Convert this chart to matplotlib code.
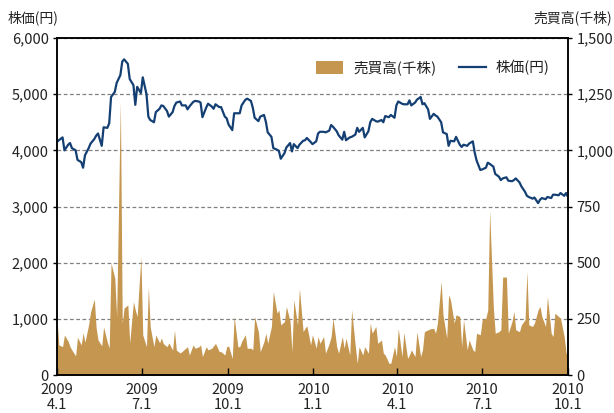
import matplotlib
matplotlib.use('Agg')
import matplotlib.pyplot as plt
from matplotlib.patches import Patch
from matplotlib.lines import Line2D
import pandas as pd

plt.rcParams['font.family'] = ['Noto Sans CJK JP', 'DejaVu Sans']

START = '2009-04-01'
END = '2010-10-01'

# closing price (yen), one value every 2 business days
PRICE = [
    4150, 4180, 4230, 4000, 4100, 4130, 4040, 4000, 3830, 3790,
    3690, 3910, 4040, 4120, 4200, 4260, 4300, 4080, 4410, 4400,
    4480, 4950, 5040, 5200, 5340, 5580, 5620, 5540, 5270, 5160,
    4810, 5130, 5020, 5300, 5000, 4600, 4540, 4500, 4680, 4740,
    4800, 4790, 4700, 4600, 4680, 4790, 4850, 4870, 4800, 4800,
    4730, 4780, 4860, 4880, 4870, 4850, 4590, 4760, 4830, 4780,
    4740, 4820, 4770, 4770, 4600, 4570, 4460, 4360, 4660, 4660,
    4660, 4800, 4900, 4920, 4880, 4760, 4580, 4520, 4600, 4630,
    4510, 4320, 4240, 4040, 4010, 3990, 3850, 3950, 4050, 4130,
    3980, 4110, 4040, 4100, 4170, 4180, 4220, 4150, 4110, 4160,
    4300, 4330, 4330, 4320, 4350, 4450, 4420, 4340, 4270, 4190,
    4330, 4180, 4230, 4240, 4280, 4400, 4330, 4400, 4230, 4340,
    4500, 4560, 4520, 4510, 4540, 4500, 4610, 4590, 4630, 4580,
    4800, 4870, 4830, 4820, 4820, 4890, 4800, 4850, 4900, 4950,
    4820, 4840, 4730, 4560, 4650, 4620, 4600, 4500, 4320, 4290,
    4080, 4170, 4160, 4240, 4100, 4060, 4100, 4080, 4120, 4160,
    3960, 3820, 3650, 3660, 3690, 3780, 3760, 3710, 3580, 3530,
    3470, 3500, 3520, 3460, 3450, 3470, 3500, 3430, 3360, 3260,
    3190, 3170, 3140, 3160, 3060, 3120, 3150, 3130, 3170, 3150,
    3210, 3210, 3200, 3240, 3190, 3240, 3170,
]

# trading volume (thousand shares), same dates
VOLUME = [
    250, 134, 126, 178, 150, 126, 111, 85, 168, 134,
    188, 146, 225, 280, 338, 210, 156, 130, 214, 146,
    120, 498, 431, 260, 1220, 230, 298, 312, 143, 326,
    289, 260, 527, 178, 126, 393, 214, 126, 178, 143,
    165, 140, 126, 143, 111, 200, 111, 98, 104, 119,
    126, 89, 134, 119, 125, 134, 82, 126, 112, 119,
    130, 141, 104, 104, 89, 126, 129, 74, 260, 126,
    126, 149, 179, 119, 119, 112, 260, 193, 104, 149,
    186, 141, 216, 372, 275, 290, 223, 238, 305, 238,
    104, 335, 223, 385, 193, 208, 219, 134, 179, 119,
    171, 141, 171, 97, 141, 171, 253, 126, 97, 171,
    119, 164, 89, 290, 126, 52, 126, 89, 126, 97,
    231, 186, 216, 141, 156, 97, 89, 52, 52, 126,
    82, 208, 82, 189, 74, 89, 112, 82, 193, 82,
    112, 193, 201, 205, 208, 186, 231, 417, 268, 164,
    357, 335, 231, 268, 260, 126, 246, 112, 156, 112,
    104, 186, 179, 246, 253, 290, 734, 300, 186, 193,
    201, 436, 436, 186, 238, 283, 201, 193, 223, 246,
    461, 223, 216, 231, 290, 305, 260, 216, 350, 186,
    171, 275, 260, 253, 170, 97, 90,
]

TICK_DATES = ['2009-04-01', '2009-07-01', '2009-10-01', '2010-01-01',
              '2010-04-01', '2010-07-01', '2010-10-01']
TICK_LABELS = ['2009\n4.1', '2009\n7.1', '2009\n10.1', '2010\n1.1',
               '2010\n4.1', '2010\n7.1', '2010\n10.1']

NAVY = '#143f73'
TAN = '#c4964f'
TXT = '#222222'

dates = pd.bdate_range(START, END)[::2]
dates = dates[:len(PRICE)]

fig = plt.figure(figsize=(6.14, 4.13), dpi=100)
ax = fig.add_axes([0.0928, 0.092, 0.8322, 0.816])
ax2 = ax.twinx()
ax.set_zorder(ax2.get_zorder() + 1)
ax.patch.set_visible(False)

# volume area (right axis)
ax2.fill_between(dates, VOLUME, 0, color=TAN, linewidth=0)
ax2.set_ylim(0, 1500)
ax2.set_yticks(range(0, 1501, 250))
ax2.set_yticklabels([f"{v:,}" for v in range(0, 1501, 250)], fontsize=10.5, color=TXT)
ax2.set_axisbelow(True)
ax2.yaxis.grid(True, linestyle=(0, (3, 2)), color='#808080', linewidth=0.9)
ax2.tick_params(axis='y', direction='out', length=3, width=1, pad=3)

# price line (left axis)
ax.plot(dates, PRICE, color=NAVY, linewidth=1.6)
ax.set_ylim(0, 6000)
ax.set_yticks(range(0, 6001, 1000))
ax.set_yticklabels([f"{v:,}" for v in range(0, 6001, 1000)], fontsize=10.5, color=TXT)
ax.set_xlim(pd.Timestamp(START), pd.Timestamp(END))
ax.set_xticks(pd.to_datetime(TICK_DATES))
ax.set_xticklabels(TICK_LABELS, fontsize=10.5, color=TXT, linespacing=1.1)
ax.tick_params(axis='x', direction='in', length=5, width=1, pad=6)
ax.tick_params(axis='y', direction='out', length=3, width=1, pad=3)

for a in (ax, ax2):
    for s in a.spines.values():
        s.set_linewidth(1.1)
        s.set_color('black')

handles = [Patch(facecolor=TAN, edgecolor='none', label='売買高(千株)'),
           Line2D([], [], color=NAVY, linewidth=1.6, label='株価(円)')]
leg = ax.legend(handles=handles, loc='center right', bbox_to_anchor=(0.99, 0.912),
                ncol=2, frameon=False, fontsize=10.5, handlelength=1.8,
                handleheight=1.0, columnspacing=1.6, handletextpad=0.7)
for t in leg.get_texts():
    t.set_color(TXT)

fig.text(0.013, 0.956, '株価(円)', fontsize=10, color=TXT, ha='left', va='center')
fig.text(0.997, 0.956, '売買高(千株)', fontsize=10, color=TXT, ha='right', va='center')

fig.savefig('out.png', dpi=100)
